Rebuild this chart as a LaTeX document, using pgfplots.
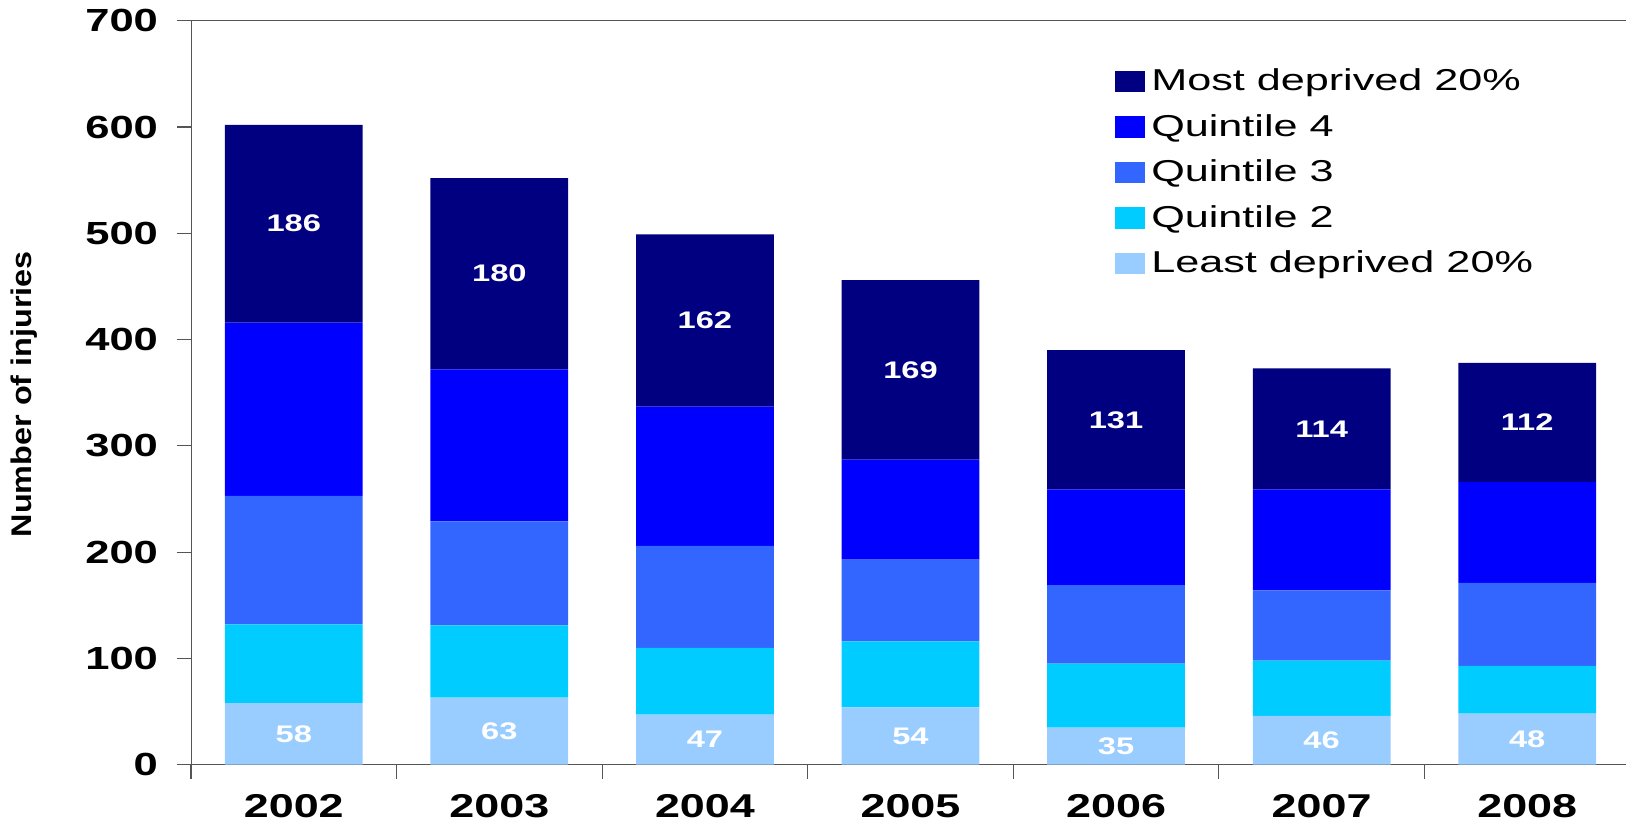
\documentclass[border=0pt]{standalone}
\usepackage{pgfplots}
\usepackage{pgfplotstable}
\usepackage{fontspec}
\pgfplotsset{compat=1.18}
\setmainfont{Liberation Sans}
\newfontfamily\widefont[FakeStretch=1.36]{Liberation Sans}
\newfontfamily\legfont[FakeStretch=1.43]{Liberation Sans}
\newfontfamily\ylabfont[FakeStretch=1.14]{Liberation Sans}
\definecolor{cmost}{HTML}{000080}
\definecolor{cq4}{HTML}{0000FF}
\definecolor{cq3}{HTML}{3366FF}
\definecolor{cq2}{HTML}{00CCFF}
\definecolor{cleast}{HTML}{99CCFF}
\definecolor{axgray}{HTML}{555555}
\pgfplotstableread{
x least q2 q3 q4 most
0 58 74 121 163 186
1 63 68 98 143 180
2 47 63 96 131 162
3 54 62 77 94 169
4 35 60 74 90 131
5 46 52 66 95 114
6 48 45 78 95 112
}\data
\begin{document}
\begin{tikzpicture}
\begin{axis}[
  scale only axis,
  width=719.5pt, height=372pt,
  ybar stacked,
  bar width=0.67,
  xmin=-0.5, xmax=6.5,
  ymin=0, ymax=700,
  ytick={0,100,...,700},
  xtick={-0.5,0.5,...,6.5},
  xticklabels={},
  extra x ticks={0,1,2,3,4,5,6},
  extra x tick labels={2002,2003,2004,2005,2006,2007,2008},
  extra x tick style={tick style={draw=none}},
  xtick pos=bottom, ytick pos=left,
  tick align=outside,
  major tick length=7pt,
  axis line style={axgray},
  tick style={axgray, line width=0.6pt},
  /pgf/number format/assume math mode=true,
  /pgf/number format/1000 sep={},
  yticklabel style={font=\widefont\bfseries\fontsize{16}{16}\selectfont, xshift=-6pt},
  xticklabel style={font=\widefont\bfseries\fontsize{16.5}{16.5}\selectfont, yshift=-4.5pt},
  ylabel={Number of injuries},
  every axis y label/.style={at={(axis description cs:-0.116,0.498)}, rotate=90, anchor=center, font=\ylabfont\bfseries\fontsize{14.2}{14.2}\selectfont},
  legend cell align=left,
  reverse legend,
  legend style={draw=none, fill=none, at={(rel axis cs:0.6423,0.9492)}, anchor=north west,
    inner sep=0pt, outer sep=0pt, row sep=0pt,
    font=\legfont\fontsize{15.1}{15.1}\selectfont,
    nodes={text height=14pt, text depth=4.8pt, inner ysep=2pt, inner xsep=3pt}},
  legend image code/.code={\fill[#1] (-5pt,-5.35pt) rectangle (10pt,5.35pt);},
]
\addplot[fill=cleast, draw=none, nodes near coords, point meta=explicit,
  every node near coord/.append style={anchor=center, text=white, font=\widefont\bfseries\fontsize{12}{12}\selectfont}]
  table[x=x, y=least, meta=least] {\data};
\addlegendentry{Least deprived 20\%}
\addplot[fill=cq2, draw=none] table[x=x, y=q2] {\data};
\addlegendentry{Quintile 2}
\addplot[fill=cq3, draw=none] table[x=x, y=q3] {\data};
\addlegendentry{Quintile 3}
\addplot[fill=cq4, draw=none] table[x=x, y=q4] {\data};
\addlegendentry{Quintile 4}
\addplot[fill=cmost, draw=none, nodes near coords, point meta=explicit,
  every node near coord/.append style={anchor=center, text=white, font=\widefont\bfseries\fontsize{12}{12}\selectfont}]
  table[x=x, y=most, meta=most] {\data};
\addlegendentry{Most deprived 20\%}
\end{axis}
\pgfresetboundingbox
\path[use as bounding box] (-95.5pt,-32.15pt) rectangle (717.5pt,382.35pt);
\end{tikzpicture}
\end{document}
